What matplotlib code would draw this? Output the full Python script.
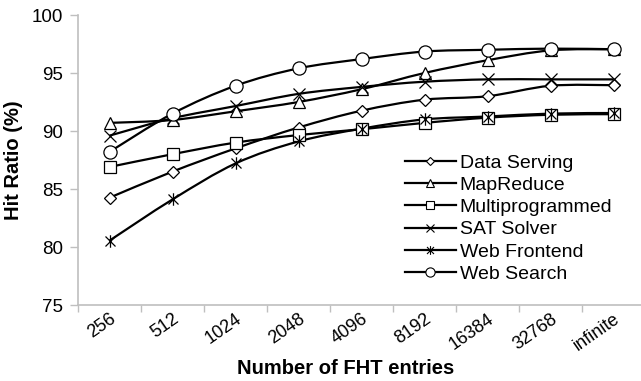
import numpy as np
import matplotlib.pyplot as plt
from matplotlib.path import Path
from matplotlib.patches import PathPatch
from matplotlib.lines import Line2D

plt.rcParams['font.family'] = ['Liberation Sans', 'DejaVu Sans']

# FHT size categories
entries = ['256', '512', '1024', '2048', '4096', '8192', '16384', '32768', 'infinite']

# hit ratio (%) per workload
data_serving = [84.25, 86.5, 88.5, 90.3, 91.75, 92.7, 93.0, 93.9, 93.95]
map_reduce = [90.7, 90.95, 91.7, 92.5, 93.6, 95.0, 96.1, 96.95, 97.05]
multiprog = [86.9, 88.0, 89.0, 89.65, 90.15, 90.7, 91.15, 91.4, 91.45]
sat_solver = [89.6, 91.1, 92.15, 93.2, 93.8, 94.25, 94.45, 94.45, 94.45]
web_frontend = [80.55, 84.1, 87.2, 89.1, 90.2, 91.0, 91.25, 91.5, 91.55]
web_search = [88.2, 91.5, 93.9, 95.4, 96.2, 96.85, 97.0, 97.1, 97.05]

# excel style asterisk: x plus vertical bar
star = Path([(-1, -1), (1, 1), (-1, 1), (1, -1), (0, -1.25), (0, 1.25)],
            [Path.MOVETO, Path.LINETO, Path.MOVETO, Path.LINETO, Path.MOVETO, Path.LINETO])

series = [
    ('Data Serving', data_serving, 'D', 6.5),
    ('MapReduce', map_reduce, '^', 9),
    ('Multiprogrammed', multiprog, 's', 9),
    ('SAT Solver', sat_solver, 'x', 9),
    ('Web Frontend', web_frontend, star, 9),
    ('Web Search', web_search, 'o', 9.5),
]


def smooth_path(xs, ys):
    # catmull-rom -> cubic bezier, like excel "smoothed line"
    pts = np.column_stack([xs, ys]).astype(float)
    n = len(pts)
    verts = [pts[0]]
    codes = [Path.MOVETO]
    for i in range(n - 1):
        p0 = pts[max(i - 1, 0)]
        p1 = pts[i]
        p2 = pts[i + 1]
        p3 = pts[min(i + 2, n - 1)]
        verts += [p1 + (p2 - p0) / 6, p2 - (p3 - p1) / 6, p2]
        codes += [Path.CURVE4] * 3
    return Path(verts, codes)


fig = plt.figure(figsize=(6.41, 3.81), dpi=100)
ax = fig.add_axes([78 / 641, 1 - 305 / 381, 567 / 641, 290 / 381])

x = np.arange(len(entries))
handles = []
for name, vals, mk, ms in series:
    ax.add_patch(PathPatch(smooth_path(x, vals), fill=False, edgecolor='black', lw=1.6, zorder=2))
    ax.plot(x, vals, linestyle='none', marker=mk, ms=ms, mfc='white', mec='black', mew=0.9, zorder=3)
    handles.append(Line2D([], [], color='black', lw=1.6, marker=mk, ms=ms * 0.7,
                          mfc='white', mec='black', mew=0.8, label=name))

ax.set_xlim(-0.5, len(entries) - 0.5)
ax.set_ylim(75, 100)
ax.set_yticks(np.arange(75, 101, 5))
ax.set_xticks(x)
ax.set_xticklabels(entries, rotation=35, ha='right', rotation_mode='anchor')
ax.set_xticks(np.arange(-0.5, len(entries), 1), minor=True)
ax.tick_params(axis='x', which='major', length=0, pad=4, labelsize=13)
ax.tick_params(axis='x', which='minor', length=5, color='#bfbfbf', width=1)
ax.tick_params(axis='y', length=6, color='#bfbfbf', width=1, labelsize=13.5, pad=5)

for s in ['top', 'right']:
    ax.spines[s].set_visible(False)
for s in ['left', 'bottom']:
    ax.spines[s].set_color('#bfbfbf')
    ax.spines[s].set_linewidth(1.2)

ax.set_xlabel('Number of FHT entries', fontsize=14.5, fontweight='bold', va='center')
ax.set_ylabel('Hit Ratio (%)', fontsize=14.5, fontweight='bold', va='center')
ax.xaxis.set_label_coords((346 - 78) / 567, -(369 - 305) / 290)
ax.yaxis.set_label_coords(-(78 - 14) / 567, 0.5)

fig.legend(handles=handles, loc='upper left', bbox_to_anchor=(0.632, 1 - 154 / 381),
           frameon=False, fontsize=14, handlelength=2.6, handletextpad=0.2,
           labelspacing=0.24, borderaxespad=0, borderpad=0)

fig.savefig('out.png', dpi=100)
